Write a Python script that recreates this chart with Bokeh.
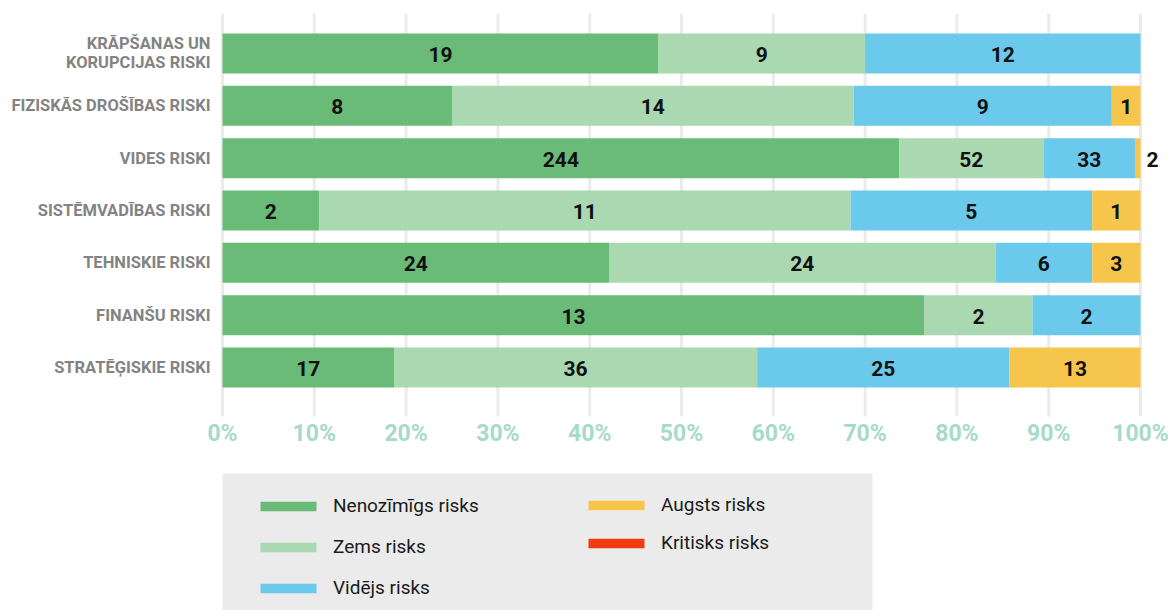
from bokeh.plotting import figure
from bokeh.models import (ColumnDataSource, Range1d, FixedTicker, NumeralTickFormatter,
                          Legend, LegendItem, BoxAnnotation)
from bokeh.embed import file_html
from bokeh.resources import INLINE
from bokeh.core.properties import value

# ---------------- data ----------------
categories = [
    "KRĀPŠANAS UN\nKORUPCIJAS RISKI",
    "FIZISKĀS DROŠĪBAS RISKI",
    "VIDES RISKI",
    "SISTĒMVADĪBAS RISKI",
    "TEHNISKIE RISKI",
    "FINANŠU RISKI",
    "STRATĒĢISKIE RISKI",
]
series_names = ["Nenozīmīgs risks", "Zems risks", "Vidējs risks", "Augsts risks", "Kritisks risks"]
nenozimigs = [19, 8, 244, 2, 24, 13, 17]
zems = [9, 14, 52, 11, 24, 2, 36]
videjs = [12, 9, 33, 5, 6, 2, 25]
augsts = [0, 1, 2, 1, 3, 0, 13]
kritisks = [0, 0, 0, 0, 0, 0, 0]
colors = ["#6abb78", "#aad8b0", "#6bc9eb", "#f6c54b", "#f03a10"]
x_ticks = [0, 0.1, 0.2, 0.3, 0.4, 0.5, 0.6, 0.7, 0.8, 0.9, 1.0]

counts = [nenozimigs, zems, videjs, augsts, kritisks]
n = len(categories)
ys = [n - 1 - i for i in range(n)]
totals = [sum(c[i] for c in counts) for i in range(n)]

data = {"y": ys}
for name, c in zip(series_names, counts):
    data[name] = [c[i] / totals[i] for i in range(n)]
src = ColumnDataSource(data)

# label positions (tiny segments get their label outside the bar)
lx, ly, lt, la, lo = [], [], [], [], []
for i in range(n):
    cum = 0.0
    for c in counts:
        v = c[i]
        f = v / totals[i]
        if v > 0:
            if f < 0.015:
                lx.append(cum + f); la.append("left"); lo.append(6)
            else:
                lx.append(cum + f / 2); la.append("center"); lo.append(0)
            ly.append(ys[i]); lt.append(str(v))
        cum += f
lab_src = ColumnDataSource(dict(x=lx, y=ly, t=lt, a=la, o=lo))

FONT = "Roboto"

# extent of the bar zone
ZONE_BOTTOM = -0.936
ZONE_TOP = 6.764
X_START = -222 / 918
X_END = 946 / 918

# ---------------- chart ----------------
p = figure(width=1170, height=610, x_range=Range1d(X_START, X_END), y_range=Range1d(-4.644, ZONE_TOP),
           output_backend="svg", toolbar_location=None,
           min_border_left=0, min_border_right=2, min_border_top=13, min_border_bottom=0)
p.outline_line_color = None
p.background_fill_color = "white"
p.grid.visible = False

# grid lines limited to the bar zone
p.segment(x0=x_ticks, x1=x_ticks, y0=[ZONE_BOTTOM] * len(x_ticks), y1=[ZONE_TOP] * len(x_ticks),
          line_color="#ebebeb", line_width=3, level="underlay")

bars = p.hbar_stack(series_names, y="y", height=0.764, fill_color=colors, line_color=None, source=src)

p.text(x="x", y="y", text="t", source=lab_src, text_align="a", x_offset="o",
       text_baseline="middle", text_font=value(FONT), text_font_style="bold",
       text_font_size="21px", text_color="#111111", y_offset=1)

xa = p.xaxis[0]
xa.fixed_location = ZONE_BOTTOM
xa.ticker = FixedTicker(ticks=x_ticks)
xa.formatter = NumeralTickFormatter(format="0%")
xa.axis_line_color = None
xa.major_tick_line_color = None
xa.minor_tick_line_color = None
xa.major_tick_out = 0
xa.major_tick_in = 0
xa.major_label_text_font = FONT
xa.major_label_text_font_style = "bold"
xa.major_label_text_font_size = "23px"
xa.major_label_text_color = "#a6dac9"
xa.major_label_standoff = 4

ya = p.yaxis[0]
ya.fixed_location = 0
ya.ticker = FixedTicker(ticks=ys)
ya.major_label_overrides = {ys[i]: categories[i] for i in range(n)}
ya.axis_line_color = None
ya.major_tick_line_color = None
ya.minor_tick_line_color = None
ya.major_tick_out = 0
ya.major_tick_in = 0
ya.major_label_text_font = FONT
ya.major_label_text_font_style = "bold"
ya.major_label_text_font_size = "16.5px"
ya.major_label_text_color = "#838383"
ya.major_label_text_line_height = 1.0
ya.major_label_standoff = 12

# legend background panel
p.add_layout(BoxAnnotation(left=222, right=872, top=473, bottom=640,
                           left_units="canvas", right_units="canvas",
                           top_units="canvas", bottom_units="canvas",
                           fill_color="#ebebeb", fill_alpha=1, line_color=None))


def make_legend(idx, loc, spacing):
    return Legend(items=[LegendItem(label=series_names[i], renderers=[bars[i]]) for i in idx],
                  location=loc, orientation="vertical", padding=0, margin=0, spacing=spacing,
                  glyph_width=70, glyph_height=12, label_standoff=10, label_height=20,
                  label_text_font=FONT, label_text_font_size="19px", label_text_color="#1a1a1a",
                  border_line_color=None, background_fill_alpha=0)


p.add_layout(make_legend([0, 1, 2], (253, 11), 18))
p.add_layout(make_legend([3, 4], (581, 56), 15))

open("out.html", "w").write(file_html(p, INLINE))
